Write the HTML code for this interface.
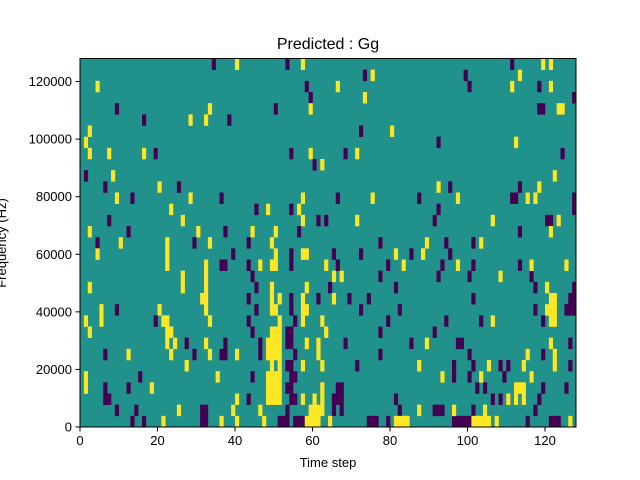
<!DOCTYPE html>
<html><head><meta charset="utf-8"><style>
body{margin:0;background:#fff;}
svg{display:block;font-family:"Liberation Sans","DejaVu Sans",sans-serif;}
</style></head><body>
<svg id="chart" width="640" height="480" viewBox="0 0 640 480">
<rect width="640" height="480" fill="#fff"/>
<text x="328" y="49" font-size="16" text-anchor="middle">Predicted : Gg</text>
<g id="cells"></g>
<g id="axes"></g>
<text x="328" y="467" font-size="13" text-anchor="middle">Time step</text>
<text transform="translate(6,243) rotate(-90)" font-size="13" text-anchor="middle">Frequency (Hz)</text>
</svg>
<script>
const nTime = 128;
const nFreq = 33;
const fMax = 128000;
const xTicks = [0,20,40,60,80,100,120];
const yTicks = [0,20000,40000,60000,80000,100000,120000];
// low-value cells, index = row from top, entries = time steps
const lowRows = [
[34,53,111],[73,99],[58,100,118],[59,127],[9,50,118,119],[16,38],[72],[92],
[19,54,68,124],[60],[1],[6,25,95,113],[13,36,66,87,111,112,127],[45,54,92,127],
[7,61,63,91,120,121],[12,37,56,113],[4,29,43,77,94,101],[39,54,65,72,85,95],
[36,37,43,54,66,79,93,101,113],[44,77,92,100,116],[45,64,81,117,127],
[43,54,61,69,74,101,126,127],[9,45,54,72,82,117,125,126,127],[19,43,55,79,94,103,119],
[44,53,54,77,91],[27,37,46,53,54,68,85,97,98,126],[6,29,36,37,46,55,77,100,119],
[53,54,71,96,101,108,110,126],[15,44,54,55,96,100,109],[6,12,53,54,66,67,102,104,119,125],
[6,7,43,54,55,65,66,67,81,106,108,118],[9,14,31,32,53,65,67,82,91,92,93,101,117],
[13,16,31,32,51,52,53,55,56,57,74,75,76,79,96,97,98,99,100,115,121,122,123]
];
// high-value cells
const highRows = [
[40,57,119,121],[75,113],[4,66,111,121],[73],[33,59,123,124],[28,32],[2,80],[1,112],
[2,7,16,59,71],[62],[8,122],[20,92,118],[9,28,57,75,97,115,117],[23,48,56],
[26,57,71,106,123],[2,30,44,50,121],[10,22,33,49,89,103],[4,22,50,57,58,81,88],
[22,32,46,49,50,63,83,97,116,125],[26,32,65,67,108],[2,26,32,49,58,120],
[31,32,49,51,57,65,121,122],[5,20,32,49,50,57,58,120,121,122],
[1,5,21,22,33,51,57,62,106,121,122],[2,22,23,49,50,51,63],
[22,24,32,48,49,50,51,58,61,89,121],[12,23,33,40,48,49,50,51,61,115,122],
[27,49,51,57,62,87,105,114,122],[1,35,48,49,50,51,93,103,116],
[1,18,48,49,50,51,62,112,113,114],[40,48,49,50,51,57,60,62,110,112,114],
[25,39,46,59,60,61,62,87,96,104],
[21,36,40,47,58,59,60,61,64,81,82,83,84,101,102,103,104,105,107,126]
];
const L=80,R=576,T=58.5,B=427;
const NS="http://www.w3.org/2000/svg";
const xs=t=>L+(t/nTime)*(R-L);
const ys=f=>B-(f/fMax)*(B-T);
const binH=fMax/nFreq;
const cells=document.getElementById('cells');
function mk(tag,attrs,parent){const e=document.createElementNS(NS,tag);for(const k in attrs)e.setAttribute(k,attrs[k]);parent.appendChild(e);return e;}
const bg=mk('rect',{x:L,y:T,width:R-L,height:B-T,fill:'#21918c'},cells);


function draw(rows,color,name){
  rows.forEach((cols,r)=>{
    const bin=nFreq-1-r;
    const y0=ys((bin+1)*binH), y1=ys(bin*binH);
    cols.forEach(t=>{
      const x0=xs(t), x1=xs(t+1);
      const c=mk('rect',{x:x0,y:y0,width:x1-x0+0.3,height:y1-y0+0.3,fill:color},cells);
      
      
    });
  });
}
draw(lowRows,'#440154','cell-low');
draw(highRows,'#fde725','cell-high');
const ax=document.getElementById('axes');
const frame=mk('rect',{x:L,y:T,width:R-L,height:B-T,fill:'none',stroke:'#000','stroke-width':1},ax);


xTicks.forEach(v=>{
  const x=xs(v);
  mk('line',{x1:x,x2:x,y1:B,y2:B+4.5,stroke:'#000'},ax);
  const t=mk('text',{x:x,y:B+18,'font-size':13,'text-anchor':'middle'},ax);
  t.textContent=v;
  
  
});
yTicks.forEach(v=>{
  const y=ys(v);
  mk('line',{x1:L-4.5,x2:L,y1:y,y2:y,stroke:'#000'},ax);
  const t=mk('text',{x:L-8,y:y+4.5,'font-size':13,'text-anchor':'end'},ax);
  t.textContent=v;
  
  
});
</script>
</body></html>
